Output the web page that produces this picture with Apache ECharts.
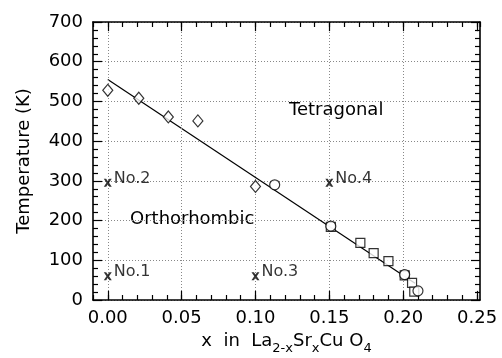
<!DOCTYPE html>
<html>
<head>
<meta charset="utf-8">
<script src="https://cdn.jsdelivr.net/npm/echarts@6/dist/echarts.min.js"></script>
<style>
  html, body { margin: 0; padding: 0; background: #fff; }
  #chart { width: 502px; height: 358px; }
</style>
</head>
<body>
<div id="chart"></div>
<script>
// Structural transition temperature of La(2-x)Sr(x)CuO4
var diamondX = [0.000, 0.021, 0.041, 0.061, 0.100];
var diamondT = [528, 508, 461, 451, 286];
var circleX = [0.113, 0.151, 0.201, 0.210];
var circleT = [290, 186, 64, 23];
var squareX = [0.151, 0.171, 0.180, 0.190, 0.201, 0.206, 0.2075];
var squareT = [184, 144, 118, 98, 62, 43, 21];
// fitted boundary line (end points)
var fitX = [0.000, 0.208];
var fitT = [555, 42];
// labelled sample points
var sampleX = [0.00, 0.00, 0.10, 0.15];
var sampleT = [60, 295, 60, 295];
var sampleNames = ['No.1', 'No.2', 'No.3', 'No.4'];
// axis ticks
var xMajorTicks = [0.00, 0.05, 0.10, 0.15, 0.20, 0.25];
var yTicks = [0, 100, 200, 300, 400, 500, 600, 700];

var FONT = 'DejaVu Sans';
var chart = echarts.init(document.getElementById('chart'), null, { renderer: 'canvas' });

function zip(xs, ys) { return xs.map(function (x, i) { return [x, ys[i]]; }); }
function isMajor(v) { return Math.abs(v * 20 - Math.round(v * 20)) < 1e-6 && v > -1e-9; }

var axisLine = { show: true, onZero: false, lineStyle: { color: '#000', width: 1.6 } };

var majorTickSegs = [];
xMajorTicks.forEach(function (v) {
  majorTickSegs.push([{ coord: [v, 0] }, { coord: [v, 23] }]);
  majorTickSegs.push([{ coord: [v, 700] }, { coord: [v, 677] }]);
});

var openStyle = { color: '#fff', borderColor: '#000', borderWidth: 1.2 };
var xShape = 'path://M0,0 L3,0 L5,3 L7,0 L10,0 L6.6,5 L10,10 L7,10 L5,7 L3,10 L0,10 L3.4,5 Z';

chart.setOption({
  animation: false,
  backgroundColor: '#fff',
  grid: { left: 93, right: 22, top: 22, bottom: 58, containLabel: false, outerBoundsMode: 'none' },
  xAxis: [{
    type: 'value', position: 'bottom', min: -0.01, max: 0.252, interval: 0.01,
    axisLine: axisLine,
    axisTick: { show: true, inside: true, length: 5, lineStyle: { color: '#000', width: 1.2 } },
    axisLabel: {
      show: true, margin: 9, color: '#000', fontFamily: FONT, fontSize: 18, showMaxLabel: false,
      formatter: function (v) { return isMajor(v) ? v.toFixed(2) : ''; }
    },
    splitLine: { show: false },
    name: '{t|x  in  La}{s|2-x}{t|Sr}{s|x}{t|Cu O}{s|4}',
    nameLocation: 'middle', nameGap: 26,
    nameTextStyle: {
      rich: {
        t: { fontFamily: FONT, fontSize: 18, color: '#000' },
        s: { fontFamily: FONT, fontSize: 13, color: '#000', padding: [16, 0, 0, 0] }
      }
    }
  }, {
    type: 'value', position: 'top', min: -0.01, max: 0.252, interval: 0.01,
    axisLine: axisLine,
    axisTick: { show: true, inside: true, length: 5, lineStyle: { color: '#000', width: 1.2 } },
    axisLabel: { show: false },
    splitLine: { show: false }
  }],
  yAxis: [{
    type: 'value', position: 'left', min: 0, max: 700, interval: 100,
    axisLine: axisLine,
    axisTick: { show: true, inside: true, length: 9, lineStyle: { color: '#000', width: 1.2 } },
    minorTick: { show: true, splitNumber: 5, length: 5, lineStyle: { color: '#000', width: 1.2 } },
    axisLabel: { color: '#000', fontFamily: FONT, fontSize: 18, margin: 10 },
    splitLine: { show: true, lineStyle: { color: '#888', width: 1, type: [1, 2] } },
    name: 'Temperature (K)', nameLocation: 'middle', nameGap: 60,
    nameTextStyle: { fontFamily: FONT, fontSize: 18, color: '#000' }
  }, {
    type: 'value', position: 'right', min: 0, max: 700, interval: 100,
    axisLine: axisLine,
    axisTick: { show: true, inside: true, length: 9, lineStyle: { color: '#000', width: 1.2 } },
    minorTick: { show: true, splitNumber: 5, length: 5, lineStyle: { color: '#000', width: 1.2 } },
    axisLabel: { show: false },
    splitLine: { show: false }
  }],
  series: [{
    name: 'boundary', type: 'line', xAxisIndex: 0, yAxisIndex: 0,
    data: zip(fitX, fitT), symbol: 'none', silent: true,
    lineStyle: { color: '#000', width: 1.2 },
    z: 3,
    markLine: {
      silent: true, symbol: 'none', animation: false,
      label: { show: false },
      lineStyle: { color: '#888', width: 1, type: [1, 2] },
      data: xMajorTicks.filter(function (v) { return v < 0.25; }).map(function (v) { return { xAxis: v }; })
    }
  }, {
    name: 'majorTicks', type: 'line', xAxisIndex: 0, yAxisIndex: 0,
    data: [], symbol: 'none', silent: true,
    markLine: {
      silent: true, symbol: 'none', animation: false,
      label: { show: false },
      lineStyle: { color: '#000', width: 1.2, type: 'solid' },
      data: majorTickSegs
    }
  }, {
    name: 'diamonds', type: 'scatter', data: zip(diamondX, diamondT),
    symbol: 'diamond', symbolSize: [10, 12], itemStyle: openStyle, z: 5
  }, {
    name: 'squares', type: 'scatter', data: zip(squareX, squareT),
    symbol: 'rect', symbolSize: 9, itemStyle: openStyle, z: 5
  }, {
    name: 'circles', type: 'scatter', data: zip(circleX, circleT),
    symbol: 'circle', symbolSize: 10, itemStyle: openStyle, z: 6
  }, {
    name: 'samples', type: 'scatter',
    data: sampleX.map(function (x, i) { return { value: [x, sampleT[i]], name: sampleNames[i] }; }),
    symbol: xShape, symbolSize: [8, 8], itemStyle: { color: '#000' }, z: 6,
    label: {
      show: true, position: 'right', distance: 2, offset: [0, -4],
      formatter: '{b}', fontFamily: FONT, fontSize: 16, color: '#000'
    }
  }],
  graphic: [{
    type: 'text', left: 289, top: 101,
    style: { text: 'Tetragonal', fontFamily: FONT, fontSize: 18, fill: '#000' }
  }, {
    type: 'text', left: 130, top: 210,
    style: { text: 'Orthorhombic', fontFamily: FONT, fontSize: 18, fill: '#000' }
  }]
});
</script>
</body>
</html>
